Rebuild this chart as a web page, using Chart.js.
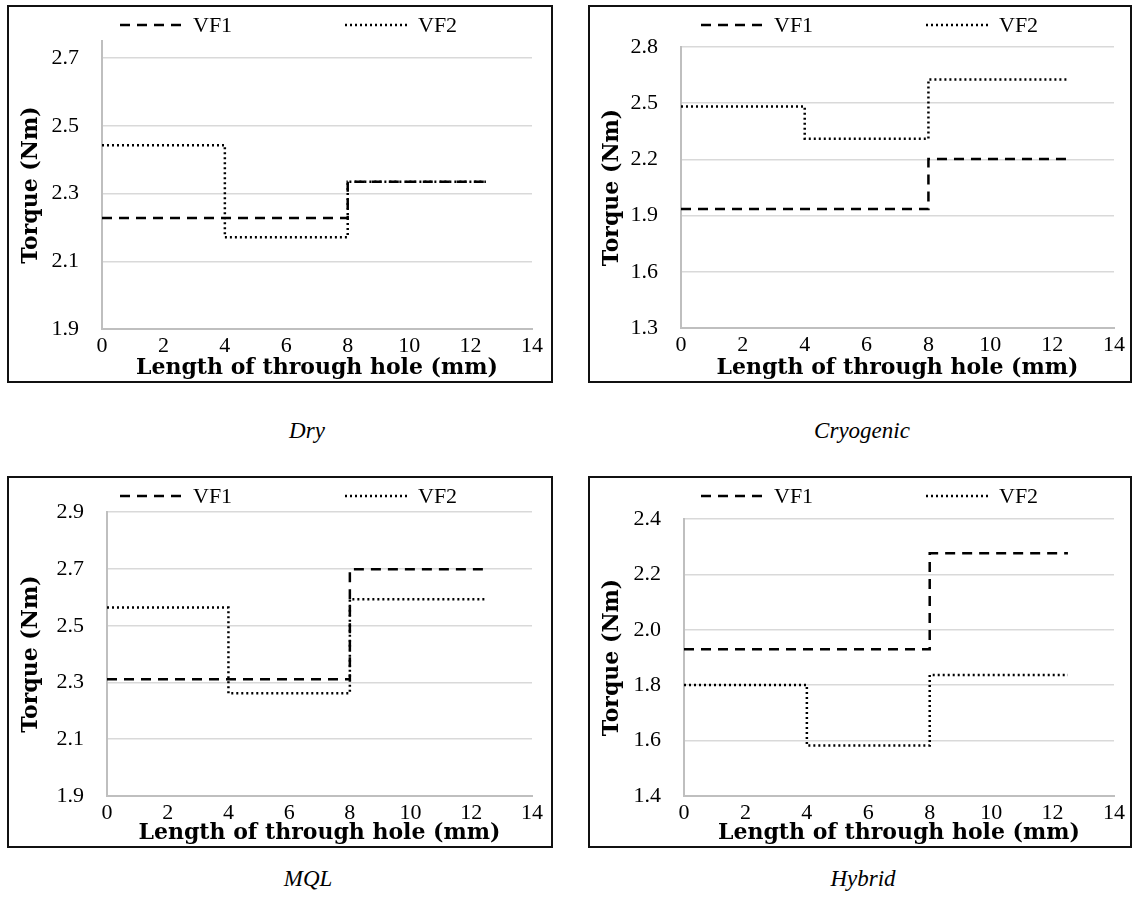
<!DOCTYPE html>
<html>
<head>
<meta charset="utf-8">
<script src="https://cdn.jsdelivr.net/npm/chart.js@4.4.1/dist/chart.umd.min.js"></script>
<style>
  html, body { margin: 0; padding: 0; background: #fff; }
  body { position: relative; width: 1139px; height: 907px; overflow: hidden; }
  .frame { position: absolute; box-sizing: border-box; border: 2px solid #111; pointer-events: none; }
  canvas { position: absolute; }
  .caption {
    position: absolute; width: 300px; text-align: center;
    font: italic 23px "Liberation Serif", serif; color: #000;
  }
</style>
</head>
<body>
<canvas id="chartDry"></canvas>
<canvas id="chartCryo"></canvas>
<canvas id="chartMql"></canvas>
<canvas id="chartHybrid"></canvas>
<div class="frame" id="frameDry"></div>
<div class="frame" id="frameCryo"></div>
<div class="frame" id="frameMql"></div>
<div class="frame" id="frameHybrid"></div>
<div class="caption" style="left:157px; top:418px;">Dry</div>
<div class="caption" style="left:712px; top:418px;">Cryogenic</div>
<div class="caption" style="left:158px; top:866px;">MQL</div>
<div class="caption" style="left:713px; top:866px;">Hybrid</div>

<script>
// hole length where each stage starts, last point closes the final step
const holeLength = [0, 4, 8, 12.5];
const xTicks = [0, 2, 4, 6, 8, 10, 12, 14];
const seriesNames = ['VF1', 'VF2'];

// torque (Nm) per stage
const dryVF1 = [2.228, 2.228, 2.335, 2.335];
const dryVF2 = [2.443, 2.171, 2.335, 2.335];
const cryoVF1 = [1.935, 1.935, 2.202, 2.202];
const cryoVF2 = [2.482, 2.310, 2.627, 2.627];
const mqlVF1 = [2.311, 2.311, 2.699, 2.699];
const mqlVF2 = [2.564, 2.262, 2.593, 2.593];
const hybridVF1 = [1.930, 1.930, 2.276, 2.276];
const hybridVF2 = [1.801, 1.582, 1.837, 1.837];

// y axis tick labels
const dryTicks = [1.9, 2.1, 2.3, 2.5, 2.7];
const cryoTicks = [1.3, 1.6, 1.9, 2.2, 2.5, 2.8];
const mqlTicks = [1.9, 2.1, 2.3, 2.5, 2.7, 2.9];
const hybridTicks = [1.4, 1.6, 1.8, 2.0, 2.2, 2.4];

const serif = '"Liberation Serif", serif';
const boldSerif = '"DejaVu Serif", serif';

// dashed / dotted line styles for the two feeds
const lineStyles = [
    { borderDash: [10, 7], borderWidth: 2.5 },
    { borderDash: [2, 3], borderWidth: 2.5 }
];

// simple horizontal legend: line sample followed by the series name
const stepLegend = {
    id: 'stepLegend',
    afterDraw(chart, args, opts) {
        const ctx = chart.ctx;
        ctx.save();
        chart.data.datasets.forEach((ds, i) => {
            const x = opts.xs[i];
            const y = opts.y;
            ctx.beginPath();
            ctx.setLineDash(ds.borderDash);
            ctx.lineWidth = ds.borderWidth;
            ctx.strokeStyle = ds.borderColor;
            ctx.moveTo(x, y);
            ctx.lineTo(x + 65, y);
            ctx.stroke();
            ctx.setLineDash([]);
            ctx.fillStyle = '#000';
            ctx.font = '22px ' + serif;
            ctx.textBaseline = 'middle';
            ctx.fillText(ds.label, x + 73, y + 1);
        });
        ctx.restore();
    }
};

function buildPanel(canvasId, frameId, box, plot, range, yTicks, vf1, vf2) {
    const canvas = document.getElementById(canvasId);
    canvas.width = box.w;
    canvas.height = box.h;
    canvas.style.left = box.x + 'px';
    canvas.style.top = box.y + 'px';
    const frame = document.getElementById(frameId);
    Object.assign(frame.style, {
        left: box.x + 'px', top: box.y + 'px', width: box.w + 'px', height: box.h + 'px'
    });

    const datasets = [vf1, vf2].map((vals, i) => ({
        label: seriesNames[i],
        data: holeLength.map((x, j) => ({ x: x, y: vals[j] })),
        stepped: true,
        borderColor: '#000',
        borderDash: lineStyles[i].borderDash,
        borderWidth: lineStyles[i].borderWidth,
        pointRadius: 0,
        fill: false
    }));

    new Chart(canvas, {
        type: 'line',
        data: { datasets: datasets },
        options: {
            responsive: false,
            animation: false,
            layout: {
                padding: { left: 0, top: plot.top, right: box.w - plot.right, bottom: 0 }
            },
            plugins: {
                legend: { display: false },
                tooltip: { enabled: false },
                stepLegend: { xs: [113, 338], y: 20 }
            },
            scales: {
                x: {
                    type: 'linear',
                    min: 0,
                    max: 14,
                    afterBuildTicks: axis => { axis.ticks = xTicks.map(v => ({ value: v })); },
                    afterFit: axis => { axis.height = box.h - plot.bottom; },
                    grid: { display: false, drawTicks: false },
                    border: { color: '#bfbfbf', width: 2 },
                    ticks: { padding: 4, color: '#000', font: { family: serif, size: 22 } },
                    title: {
                        display: true,
                        text: 'Length of through hole (mm)',
                        color: '#000',
                        font: { family: boldSerif, size: 22, weight: 'bold' },
                        padding: { top: 0, bottom: 2 }
                    }
                },
                y: {
                    min: range[0],
                    max: range[1],
                    afterBuildTicks: axis => { axis.ticks = yTicks.map(v => ({ value: v })); },
                    afterFit: axis => { axis.width = plot.left; },
                    grid: { color: '#d9d9d9', lineWidth: 1.5, drawTicks: false },
                    border: { color: '#bfbfbf', width: 2 },
                    ticks: {
                        padding: 23,
                        color: '#000',
                        font: { family: serif, size: 22 },
                        callback: v => v.toFixed(1)
                    },
                    title: {
                        display: true,
                        text: 'Torque (Nm)',
                        color: '#000',
                        font: { family: boldSerif, size: 22, weight: 'bold' },
                        padding: { top: 11, bottom: 0 }
                    }
                }
            }
        },
        plugins: [stepLegend]
    });
}

buildPanel('chartDry', 'frameDry',
    { x: 7, y: 5, w: 546, h: 378 }, { left: 95, right: 525, top: 33, bottom: 324 },
    [1.9, 2.75], dryTicks, dryVF1, dryVF2);
buildPanel('chartCryo', 'frameCryo',
    { x: 588, y: 5, w: 544, h: 378 }, { left: 93, right: 526, top: 42, bottom: 323 },
    [1.3, 2.8], cryoTicks, cryoVF1, cryoVF2);
buildPanel('chartMql', 'frameMql',
    { x: 7, y: 476, w: 546, h: 372 }, { left: 100, right: 525, top: 31, bottom: 320 },
    [1.9, 2.9], mqlTicks, mqlVF1, mqlVF2);
buildPanel('chartHybrid', 'frameHybrid',
    { x: 588, y: 476, w: 544, h: 372 }, { left: 96, right: 526, top: 43, bottom: 320 },
    [1.4, 2.4], hybridTicks, hybridVF1, hybridVF2);
</script>
</body>
</html>
